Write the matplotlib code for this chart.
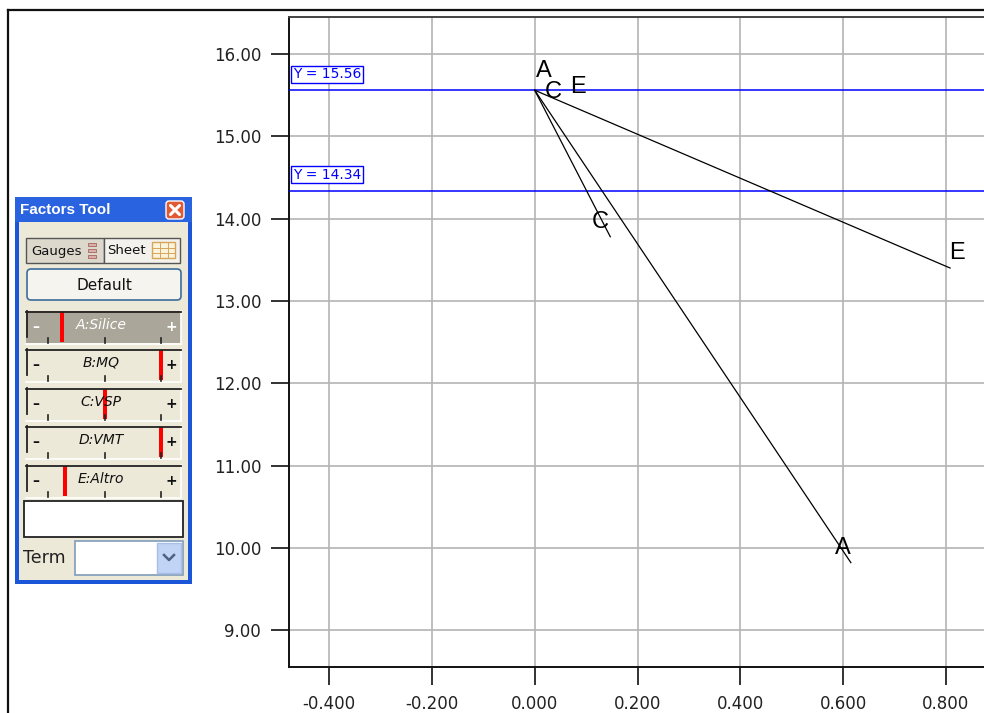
import matplotlib.pyplot as plt
from matplotlib.patches import Rectangle, FancyBboxPatch
from matplotlib.lines import Line2D

plt.rcParams['font.family'] = ['DejaVu Sans']

# trace plot: deviation from reference point vs predicted response
dev_a = [0.0, 0.615]
resp_a = [15.56, 9.82]
dev_c = [0.0, 0.147]
resp_c = [15.56, 13.78]
dev_e = [0.0, 0.808]
resp_e = [15.56, 13.40]

# horizontal reference levels
ref_levels = [15.56, 14.34]

x_ticks = [-0.4, -0.2, 0.0, 0.2, 0.4, 0.6, 0.8]
y_ticks = [9, 10, 11, 12, 13, 14, 15, 16]

# factor gauges: name and slider position (0 = low, 1 = high)
gauge_names = ['A:Silice', 'B:MQ', 'C:VSP', 'D:VMT', 'E:Altro']
gauge_pos = [0.12, 1.0, 0.5, 1.0, 0.15]

W, H = 984, 713
fig = plt.figure(figsize=(W / 100, H / 100), dpi=100)
fig.patch.set_facecolor('white')

ax = fig.add_axes([289 / W, (H - 667) / H, (W - 289) / W, (667 - 17) / H])
ax.set_xlim(-0.478, 0.874)
ax.set_ylim(8.552, 16.45)
ax.set_xticks(x_ticks)
ax.set_yticks(y_ticks)
ax.set_xticklabels(['%.3f' % v for v in x_ticks])
ax.set_yticklabels(['%.2f' % v for v in y_ticks])
ax.tick_params(direction='out', length=13, width=1.3, color='#222222',
               labelsize=12, labelcolor='#222222', pad=7)
ax.grid(True, color='#b4b4b4', lw=1.2)
ax.set_axisbelow(True)
for s in ['left', 'bottom']:
    ax.spines[s].set_linewidth(1.4)
    ax.spines[s].set_color('#111111')
ax.spines['top'].set_linewidth(1.4)
ax.spines['top'].set_color('#444444')
ax.spines['right'].set_visible(False)

for lvl in ref_levels:
    ax.axhline(lvl, color='#0000ff', lw=1.1, zorder=3)
    ax.annotate('Y = %.2f' % lvl, xy=(0, lvl), xycoords=('axes fraction', 'data'),
                xytext=(4, 9), textcoords='offset pixels', ha='left', va='bottom',
                fontsize=10, color='#0000ff', zorder=4,
                bbox=dict(boxstyle='square,pad=0.12', fc='white', ec='#0000ff', lw=1))

traces = [('A', dev_a, resp_a, (9, 19), (-8, 15)),
          ('C', dev_c, resp_c, (19, -2), (-10, 15)),
          ('E', dev_e, resp_e, (43, 3), (7, 15))]
for name, xs, ys, off0, off1 in traces:
    ax.plot(xs, ys, color='black', lw=0.9, zorder=5)
    for (px, py), off in [((xs[0], ys[0]), off0), ((xs[-1], ys[-1]), off1)]:
        ax.annotate(name, xy=(px, py), xytext=off, textcoords='offset pixels',
                    ha='center', va='center', fontsize=17, family='Liberation Sans',
                    zorder=6)

# overlay in pixel coordinates for the frame and the factors panel
ov = fig.add_axes([0, 0, 1, 1], zorder=10)
ov.set_xlim(0, W)
ov.set_ylim(H, 0)
ov.axis('off')
ov.patch.set_alpha(0)

ov.add_line(Line2D([8, 8], [10, H], color='#111111', lw=1.6))
ov.add_line(Line2D([8, W], [10, 10], color='#111111', lw=1.6))


def rect(x0, y0, x1, y1, **kw):
    ov.add_patch(Rectangle((x0, y0), x1 - x0, y1 - y0, **kw))


# window frame and title bar
rect(15, 197, 192, 584, fc='#1b55d8', ec='none')
rect(19, 222, 188, 580, fc='#ece9d8', ec='none')
rect(15, 197, 192, 222, fc='#2a63e0', ec='none')
ov.text(20, 210, 'Factors Tool', color='white', fontsize=11, fontweight='bold',
        family='Liberation Sans', ha='left', va='center')
ov.add_patch(FancyBboxPatch((166, 201), 18, 18, boxstyle='round,pad=0,rounding_size=3',
                            fc='#e05a35', ec='white', lw=1))
ov.plot([170.5, 179.5], [205.5, 214.5], color='white', lw=2.2, solid_capstyle='round')
ov.plot([170.5, 179.5], [214.5, 205.5], color='white', lw=2.2, solid_capstyle='round')

# Gauges / Sheet toggle
rect(26, 238, 104, 263, fc='#dcd8cc', ec='#555555', lw=1)
rect(104, 238, 180, 263, fc='#f2f1ec', ec='#555555', lw=1)
ov.text(31, 251, 'Gauges', fontsize=9.5, ha='left', va='center', color='#111111')
for yy in [244, 250, 256]:
    rect(88, yy - 1.5, 96, yy + 1.5, fc='#d8b0a8', ec='#a05050', lw=0.5)
ov.text(107, 250, 'Sheet', fontsize=9.5, ha='left', va='center', color='#111111')
rect(152, 242, 175, 258, fc='#fbf3dc', ec='#d6a55a', lw=1)
for xx in [159.5, 167.5]:
    ov.plot([xx, xx], [242, 258], color='#d6a55a', lw=0.7)
for yy in [247.5, 252.5]:
    ov.plot([152, 175], [yy, yy], color='#d6a55a', lw=0.7)

# Default button
ov.add_patch(FancyBboxPatch((27, 269), 154, 31, boxstyle='round,pad=0,rounding_size=4',
                            fc='#f5f4ef', ec='#3c6c9c', lw=1.2))
ov.text(104, 285, 'Default', fontsize=11, ha='center', va='center', color='#111111')

# factor gauges
gauge_tops = [311, 349, 388, 426, 465]
for i, (name, pos, gy) in enumerate(zip(gauge_names, gauge_pos, gauge_tops)):
    active = i == 0
    face = '#aaa699' if active else '#ece9d8'
    txt_col = 'white' if active else '#111111'
    rect(26, gy, 181, gy + 32, fc=face, ec='none')
    ov.plot([26, 181], [gy + 32.5, gy + 32.5], color='white', lw=1.2)
    ov.plot([181, 181], [gy, gy + 32.5], color='white', lw=1.2)
    ov.plot([26.5, 26.5], [gy, gy + 26], color='#222222', lw=1.3)
    ov.plot([26, 181], [gy + 0.5, gy + 0.5], color='#222222', lw=1.3)
    ov.text(36, gy + 16, '–', fontsize=10, fontweight='bold', ha='center', va='center',
            color=txt_col)
    ov.text(171, gy + 16, '+', fontsize=10, fontweight='bold', ha='center', va='center',
            color=txt_col)
    ov.text(101, gy + 14, name, fontsize=10, style='italic', ha='center', va='center',
            color=txt_col)
    for tx in [48, 104.5, 161]:
        ov.plot([tx, tx], [gy + 27, gy + 32], color='#222222', lw=1.2)
    mx = 48 + pos * (161 - 48)
    rect(mx - 2, gy + 1, mx + 2, gy + 31, fc='#ff0000', ec='none')

# text box and term combo box
rect(24, 501, 183, 537, fc='white', ec='#222222', lw=1.3)
ov.text(23, 558, 'Term', fontsize=12.5, ha='left', va='center', color='#222222')
rect(75, 541, 183, 575, fc='white', ec='#7f9db9', lw=1.2)
rect(157, 543, 181, 573, fc='#c2d4f5', ec='#a8bde8', lw=1)
ov.plot([164, 169, 174], [555, 560, 555], color='#4d6185', lw=1.8)

fig.savefig('out.png', dpi=100)
